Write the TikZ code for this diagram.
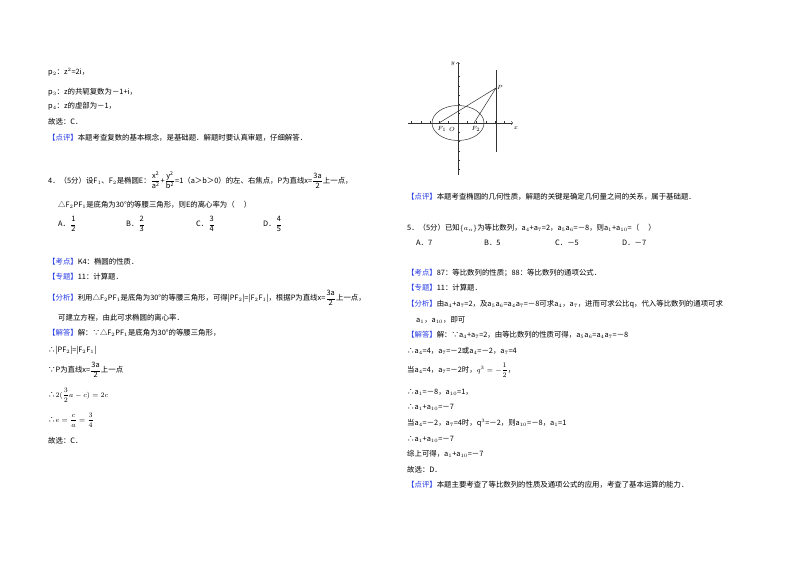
\documentclass[tikz,border=0pt]{standalone}
\usepackage{amsmath}
\usepackage{fontspec}
\setmainfont{Noto Sans CJK SC}
\definecolor{kb}{RGB}{40,60,230}
\newcommand{\tg}[1]{\textcolor{kb}{【#1】}}
\newcommand{\fr}[2]{$\dfrac{\mathrm{#1}}{\mathrm{#2}}$}
\begin{document}
\begin{tikzpicture}[x=1pt,y=-1pt,
  t/.style={anchor=west,inner sep=0pt,font=\fontsize{7.4}{8}\selectfont},
  ax/.style={draw=black!80,line width=0.5pt}]
\useasboundingbox[fill=white] (0,0) rectangle (800,565);
% left column
\node[t] (l1) at (48,72) {p$_2$：z$^2$=2i，};
\node[t] (l2) at (48,92) {p$_3$：z的共轭复数为－1+i，};
\node[t] (l3) at (48,106) {p$_4$：z的虚部为－1，};
\node[t] (l4) at (48,122) {故选：C．};
\node[t] (l5) at (48,138) {\tg{点评}本题考查复数的基本概念，是基础题．解题时要认真审题，仔细解答．};
\node[t] (l6) at (48,180) {4．（5分）设F$_1$、F$_2$是椭圆E：\fr{x^2}{a^2}+\fr{y^2}{b^2}=1（a＞b＞0）的左、右焦点，P为直线x=\fr{3a}{2}上一点，};
\node[t] (l7) at (58,205) {△F$_2$PF$_1$是底角为30°的等腰三角形，则E的离心率为（\quad\ ）};
\node[t] (oa) at (58,224) {A．\fr{1}{2}};
\node[t] (ob) at (126,224) {B．\fr{2}{3}};
\node[t] (oc) at (196,224) {C．\fr{3}{4}};
\node[t] (od) at (263,224) {D．\fr{4}{5}};
\node[t] (l8) at (48,262) {\tg{考点}K4：椭圆的性质．};
\node[t] (l9) at (48,277) {\tg{专题}11：计算题．};
\node[t] (l10) at (48,298) {\tg{分析}利用△F$_2$PF$_1$是底角为30°的等腰三角形，可得|PF$_2$|=|F$_2$F$_1$|，根据P为直线x=\fr{3a}{2}上一点，};
\node[t] (l11) at (58,318) {可建立方程，由此可求椭圆的离心率．};
\node[t] (l12) at (48,333) {\tg{解答}解：∵△F$_2$PF$_1$是底角为30°的等腰三角形，};
\node[t] (l13) at (48,350) {∴|PF$_2$|=|F$_2$F$_1$|};
\node[t] (l14) at (48,370) {∵P为直线x=\fr{3a}{2}上一点};
\node[t] (l15) at (48,395) {∴$2(\dfrac{3}{2}a-c)=2c$};
\node[t] (l16) at (48,420) {∴$e=\dfrac{c}{a}=\dfrac{3}{4}$};
\node[t] (l17) at (48,441) {故选：C．};
% figure
\draw[ax,->] (408,123) -- (513,123);
\draw[ax,->] (458,175) -- (458,62);
\foreach \i in {-5,...,5} \draw[ax] (458+\i*9.3,123) -- (458+\i*9.3,121);
\foreach \i in {-5,...,5} \draw[ax] (458,123+\i*9.3) -- (460,123+\i*9.3);
\draw[ax] (458,123) ellipse [x radius=26,y radius=17.5];
\draw[ax] (496,70) -- (496,152);
\coordinate (F1) at (439,123);
\coordinate (F2) at (474,123);
\coordinate (P) at (496,88);
\draw[ax] (F1) -- (P) -- (F2);
\node[font=\fontsize{6.5}{7}\selectfont,inner sep=1pt] at (442,129) {$F_1$};
\node[font=\fontsize{6.5}{7}\selectfont,inner sep=1pt] at (452,129) {$O$};
\node[font=\fontsize{6.5}{7}\selectfont,inner sep=1pt] at (476,129) {$F_2$};
\node[font=\fontsize{6.5}{7}\selectfont,inner sep=1pt] at (500,87) {$P$};
\node[font=\fontsize{6.5}{7}\selectfont,inner sep=1pt] at (516,128) {$x$};
\node[font=\fontsize{6.5}{7}\selectfont,inner sep=1pt] at (453,64) {$y$};
% right column
\node[t] (r1) at (407,197) {\tg{点评}本题考查椭圆的几何性质，解题的关键是确定几何量之间的关系，属于基础题．};
\node[t] (r2) at (407,228) {5．（5分）已知$\{a_n\}$为等比数列，a$_4$+a$_7$=2，a$_5$a$_6$=－8，则a$_1$+a$_{10}$=（\quad\ ）};
\node[t] (ra) at (416,243) {A．7};
\node[t] (rb) at (484,243) {B．5};
\node[t] (rc) at (555,243) {C．－5};
\node[t] (rd) at (622,243) {D．－7};
\node[t] (r3) at (407,273) {\tg{考点}87：等比数列的性质；88：等比数列的通项公式．};
\node[t] (r4) at (407,288) {\tg{专题}11：计算题．};
\node[t] (r5) at (407,304) {\tg{分析}由a$_4$+a$_7$=2，及a$_5$a$_6$=a$_4$a$_7$=－8可求a$_4$，a$_7$，进而可求公比q，代入等比数列的通项可求};
\node[t] (r6) at (416,320) {a$_1$，a$_{10}$，即可};
\node[t] (r7) at (407,335) {\tg{解答}解：∵a$_4$+a$_7$=2，由等比数列的性质可得，a$_5$a$_6$=a$_4$a$_7$=－8};
\node[t] (r8) at (407,351) {∴a$_4$=4，a$_7$=－2或a$_4$=－2，a$_7$=4};
\node[t] (r9) at (407,370) {当a$_4$=4，a$_7$=－2时，$q^3=-\dfrac{1}{2}$，};
\node[t] (r10) at (407,392) {∴a$_1$=－8，a$_{10}$=1，};
\node[t] (r11) at (407,407) {∴a$_1$+a$_{10}$=－7};
\node[t] (r12) at (407,423) {当a$_4$=－2，a$_7$=4时，q$^3$=－2，则a$_{10}$=－8，a$_1$=1};
\node[t] (r13) at (407,439) {∴a$_1$+a$_{10}$=－7};
\node[t] (r14) at (407,454) {综上可得，a$_1$+a$_{10}$=－7};
\node[t] (r15) at (407,470) {故选：D．};
\node[t] (r16) at (407,485) {\tg{点评}本题主要考查了等比数列的性质及通项公式的应用，考查了基本运算的能力．};
\end{tikzpicture}
\end{document}
